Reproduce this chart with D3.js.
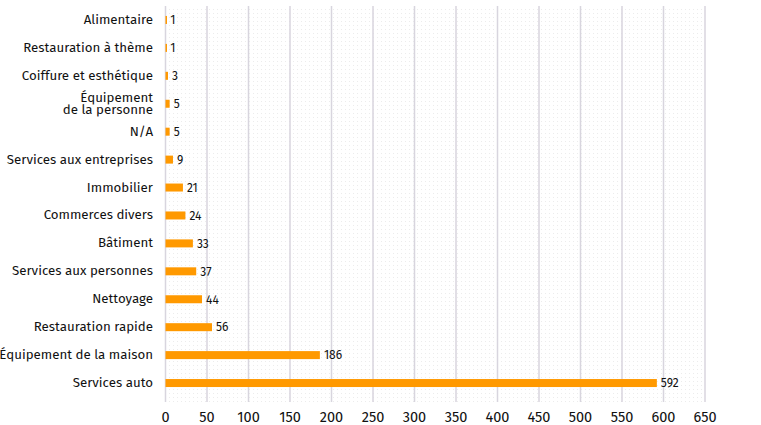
<!DOCTYPE html>
<html><head><meta charset="utf-8">
<script src="https://cdn.jsdelivr.net/npm/d3@7"></script>
<style>body{margin:0;background:#fff}svg{display:block}text{font-family:"Fira Sans","Noto Sans",sans-serif}</style>
</head><body><svg id="c" width="761" height="425"></svg>
<script>
const categories = ["Alimentaire","Restauration à thème","Coiffure et esthétique","Équipement\nde la personne","N/A","Services aux entreprises","Immobilier","Commerces divers","Bâtiment","Services aux personnes","Nettoyage","Restauration rapide","Équipement de la maison","Services auto"];
const values = [1,1,3,5,5,9,21,24,33,37,44,56,186,592];
const ticks = [0,50,100,150,200,250,300,350,400,450,500,550,600,650];

const svg = d3.select("#c");
const m = {l:165.5, r:705, t:6, b:402};
const x = d3.scaleLinear().domain([0,650]).range([m.l,m.r]);
const y = d3.scaleBand().domain(categories).range([6,397]);

const defs = svg.append("defs");
const pat = defs.append("pattern").attr("id","dots").attr("width",4).attr("height",4).attr("patternUnits","userSpaceOnUse");
pat.append("rect").attr("x",1).attr("y",1).attr("width",1).attr("height",1).attr("fill","#ececec");
svg.append("rect").attr("x",m.l).attr("y",m.t).attr("width",m.r-m.l).attr("height",m.b-m.t).attr("fill","url(#dots)");

svg.append("g").selectAll("line").data(ticks).join("line")
  .attr("x1",d=>x(d)).attr("x2",d=>x(d)).attr("y1",m.t).attr("y2",m.b)
  .attr("stroke","#d8d5de").attr("stroke-width",1.5);

svg.append("g").selectAll("text").data(ticks).join("text")
  .attr("x",d=>x(d)).attr("y",422).attr("text-anchor","middle")
  .attr("font-size",14.5).attr("fill","#111").text(d=>d);

const bh = 8;
svg.append("g").selectAll("rect").data(values).join("rect")
  .attr("x",x(0)).attr("y",(d,i)=>y(categories[i])+y.bandwidth()/2-bh/2)
  .attr("width",d=>Math.max(1.5,x(d)-x(0))).attr("height",bh).attr("fill","#ff9900");

svg.append("g").selectAll("text").data(values).join("text")
  .attr("x",d=>x(d)+4).attr("y",(d,i)=>y(categories[i])+y.bandwidth()/2+4.3)
  .attr("font-size",12).attr("fill","#111").text(d=>d);

const lab = svg.append("g").selectAll("text").data(categories).join("text")
  .attr("x",153).attr("text-anchor","end").attr("font-size",13.3).attr("fill","#111");
lab.each(function(d){
  const lines = d.split("\n");
  const cy = y(d)+y.bandwidth()/2;
  const t = d3.select(this);
  const lh = 11.5;
  lines.forEach((s,i)=>{
    t.append("tspan").attr("x",153).attr("y",cy+4+(i-(lines.length-1)/2)*lh).text(s);
  });
});
</script></body></html>
